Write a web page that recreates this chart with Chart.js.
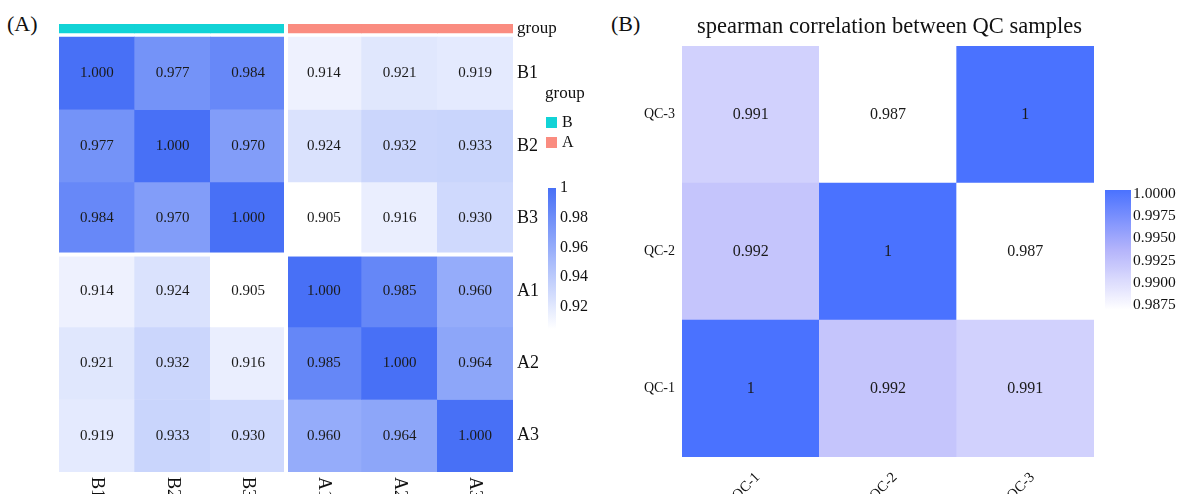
<!DOCTYPE html>
<html>
<head>
<meta charset="utf-8">
<script src="https://cdn.jsdelivr.net/npm/chart.js@4.4.1/dist/chart.umd.min.js"></script>
<style>
  body { margin: 0; background: #fff; width: 1179px; height: 494px; overflow: hidden; position: relative; font-family: "Liberation Serif", serif; }
  #chartA { position: absolute; left: 0; top: 0; }
  #chartB { position: absolute; left: 600px; top: 0; }
  .tag { position: absolute; top: 11px; font-size: 22px; color: #111; }
</style>
</head>
<body>
<div class="tag" style="left:7px">(A)</div>
<div class="tag" style="left:611px">(B)</div>
<canvas id="chartA" width="600" height="494"></canvas>
<canvas id="chartB" width="579" height="494"></canvas>
<script>
// ---- data (A) ----
const samplesA = ['B1', 'B2', 'B3', 'A1', 'A2', 'A3'];
const groupsA = ['B', 'B', 'B', 'A', 'A', 'A'];
const corrA = [
  [1.000, 0.977, 0.984, 0.914, 0.921, 0.919],
  [0.977, 1.000, 0.970, 0.924, 0.932, 0.933],
  [0.984, 0.970, 1.000, 0.905, 0.916, 0.930],
  [0.914, 0.924, 0.905, 1.000, 0.985, 0.960],
  [0.921, 0.932, 0.916, 0.985, 1.000, 0.964],
  [0.919, 0.933, 0.930, 0.960, 0.964, 1.000]
];
const legendTicksA = [1, 0.98, 0.96, 0.94, 0.92];
const groupNames = ['B', 'A'];

// ---- data (B) ----
const samplesB = ['QC-1', 'QC-2', 'QC-3'];
// rows listed bottom (QC-1) to top (QC-3)
const corrB = [
  [1, 0.992, 0.991],
  [0.992, 1, 0.987],
  [0.991, 0.987, 1]
];
const legendTicksB = [1.0000, 0.9975, 0.9950, 0.9925, 0.9900, 0.9875];

// ---- colours ----
const groupColors = { B: '#12d3d6', A: '#fa8c80' };
const white = [255, 255, 255];
const blueA = [72, 112, 246];
const lavB = [180, 180, 251];
const blueB = [74, 114, 255];
const minA = 0.905, minB = 0.987;

function mix(c1, c2, t) {
  t = Math.max(0, Math.min(1, t));
  const c = c1.map((v, i) => Math.round(v + (c2[i] - v) * t));
  return 'rgb(' + c.join(',') + ')';
}
function colorA(v) { return mix(white, blueA, (v - minA) / (1 - minA)); }
function colorB(v) {
  const t = (v - minB) / (1 - minB);
  return t < 0.5 ? mix(white, lavB, t / 0.5) : mix(lavB, blueB, (t - 0.5) / 0.5);
}

const serif = '"Liberation Serif", "Times New Roman", serif';
Chart.defaults.font.family = serif;
Chart.defaults.color = '#111';

// ---------------- chart A ----------------
const datasetsA = corrA.map((row, r) => ({
  data: row.map(() => [r, r + 1]),
  backgroundColor: row.map(colorA),
  grouped: false,
  barPercentage: 1,
  categoryPercentage: 1,
  borderWidth: 0
}));
datasetsA.push({
  data: groupsA.map(() => [-0.18, -0.056]),
  backgroundColor: groupsA.map(g => groupColors[g]),
  grouped: false,
  barPercentage: 1,
  categoryPercentage: 1,
  borderWidth: 0
});

const rowTicksA = ['group'].concat(samplesA);

const decorA = {
  id: 'decorA',
  afterDatasetsDraw(chart) {
    const { ctx, chartArea, scales: { x, y } } = chart;
    ctx.save();
    // white gaps between the two groups
    ctx.fillStyle = '#fff';
    const xb = (x.getPixelForValue(2) + x.getPixelForValue(3)) / 2;
    ctx.fillRect(xb - 2, chartArea.top, 4, chartArea.bottom - chartArea.top);
    const yb = y.getPixelForValue(3);
    ctx.fillRect(chartArea.left, yb - 2, chartArea.right - chartArea.left, 4);

    // cell values
    ctx.fillStyle = '#1a1a1a';
    ctx.font = '15px ' + serif;
    ctx.textAlign = 'center';
    ctx.textBaseline = 'middle';
    corrA.forEach((row, r) => {
      chart.getDatasetMeta(r).data.forEach((bar, c) => {
        const p = bar.getCenterPoint();
        ctx.fillText(row[c].toFixed(3), p.x, p.y);
      });
    });

    // column labels, rotated clockwise
    ctx.font = '18px ' + serif;
    ctx.textAlign = 'left';
    ctx.fillStyle = '#111';
    samplesA.forEach((s, i) => {
      ctx.save();
      ctx.translate(x.getPixelForValue(i), chartArea.bottom + 5);
      ctx.rotate(Math.PI / 2);
      ctx.fillText(s, 0, 0);
      ctx.restore();
    });

    // group legend
    ctx.font = '17px ' + serif;
    ctx.fillText('group', 545, 94);
    ctx.font = '16px ' + serif;
    groupNames.forEach((g, i) => {
      ctx.fillStyle = groupColors[g];
      ctx.fillRect(546, 117 + i * 20, 11, 11);
      ctx.fillStyle = '#111';
      ctx.fillText(g, 562, 123 + i * 20);
    });

    // colour bar
    const cbTop = 188, perUnit = 1485;
    const cbBottom = cbTop + (1 - minA) * perUnit;
    const grad = ctx.createLinearGradient(0, cbTop, 0, cbBottom);
    for (let k = 0; k <= 20; k++) grad.addColorStop(k / 20, colorA(1 - (1 - minA) * k / 20));
    ctx.fillStyle = grad;
    ctx.fillRect(548, cbTop, 8, cbBottom - cbTop);
    ctx.fillStyle = '#111';
    ctx.font = '16px ' + serif;
    legendTicksA.forEach(v => {
      ctx.fillText(String(v), 560, cbTop + (1 - v) * perUnit);
    });
    ctx.restore();
  }
};

new Chart(document.getElementById('chartA'), {
  type: 'bar',
  data: { labels: samplesA, datasets: datasetsA },
  options: {
    responsive: false,
    animation: false,
    devicePixelRatio: 1,
    layout: { padding: { left: 59, top: 24, bottom: 22, right: 0 }, autoPadding: false },
    plugins: { legend: { display: false }, tooltip: { enabled: false } },
    scales: {
      x: { display: false },
      y: {
        type: 'linear',
        position: 'right',
        reverse: true,
        min: -0.18,
        max: 6,
        grid: { display: false, drawTicks: false },
        border: { display: false },
        afterBuildTicks: axis => {
          axis.ticks = [-0.118, 0.5, 1.5, 2.5, 3.5, 4.5, 5.5].map(v => ({ value: v }));
        },
        afterFit: axis => { axis.width = 87; },
        ticks: {
          padding: 4,
          color: '#111',
          font: c => ({ size: c.index === 0 ? 17 : 18 }),
          callback: (v, i) => rowTicksA[i]
        }
      }
    }
  },
  plugins: [decorA]
});

// ---------------- chart B ----------------
const datasetsB = corrB.map((row, r) => ({
  data: row.map(() => [r, r + 1]),
  backgroundColor: row.map(colorB),
  grouped: false,
  barPercentage: 1,
  categoryPercentage: 1,
  borderWidth: 0
}));

const decorB = {
  id: 'decorB',
  afterDatasetsDraw(chart) {
    const { ctx } = chart;
    ctx.save();
    ctx.fillStyle = '#1a1a1a';
    ctx.font = '16px ' + serif;
    ctx.textAlign = 'center';
    ctx.textBaseline = 'middle';
    corrB.forEach((row, r) => {
      chart.getDatasetMeta(r).data.forEach((bar, c) => {
        const p = bar.getCenterPoint();
        ctx.fillText(String(row[c]), p.x, p.y);
      });
    });

    // colour bar
    const cbY1 = 194, perUnit = 8880;
    const yOf = v => cbY1 + (1 - v) * perUnit;
    const top = cbY1 - 4, bottom = yOf(minB);
    const grad = ctx.createLinearGradient(0, top, 0, bottom);
    for (let k = 0; k <= 20; k++) grad.addColorStop(k / 20, colorB(1 - (1 - minB) * k / 20));
    ctx.fillStyle = grad;
    ctx.fillRect(505, top, 26, bottom - top);
    ctx.fillStyle = '#111';
    ctx.textAlign = 'left';
    ctx.font = '15.5px ' + serif;
    legendTicksB.forEach(v => ctx.fillText(v.toFixed(4), 533, yOf(v)));
    ctx.restore();
  }
};

new Chart(document.getElementById('chartB'), {
  type: 'bar',
  data: { labels: samplesB, datasets: datasetsB },
  options: {
    responsive: false,
    animation: false,
    devicePixelRatio: 1,
    layout: { padding: 0, autoPadding: false },
    plugins: {
      legend: { display: false },
      tooltip: { enabled: false },
      title: {
        display: true,
        text: 'spearman correlation between QC samples',
        color: '#111',
        font: { size: 22.5, weight: 'normal' },
        padding: { top: 14, bottom: 5 }
      }
    },
    scales: {
      x: {
        grid: { display: false, drawTicks: false },
        border: { display: false },
        afterFit: axis => { axis.height = 37; },
        ticks: { minRotation: 45, maxRotation: 45, padding: 12, labelOffset: 7, font: { size: 14.5 }, color: '#111' }
      },
      y: {
        type: 'linear',
        min: 0,
        max: 3,
        grid: { display: false, drawTicks: false },
        border: { display: false },
        afterBuildTicks: axis => {
          axis.ticks = samplesB.map((s, i) => ({ value: i + 0.5 }));
        },
        afterFit: axis => { axis.width = 82; },
        ticks: { padding: 7, font: { size: 14 }, color: '#111', callback: (v, i) => samplesB[i] }
      },
      // empty right-hand axis reserving room for the colour bar
      side: {
        type: 'linear',
        position: 'right',
        grid: { display: false, drawTicks: false },
        border: { display: false },
        ticks: { display: false },
        afterFit: axis => { axis.width = 85; }
      }
    }
  },
  plugins: [decorB]
});
</script>
</body>
</html>
